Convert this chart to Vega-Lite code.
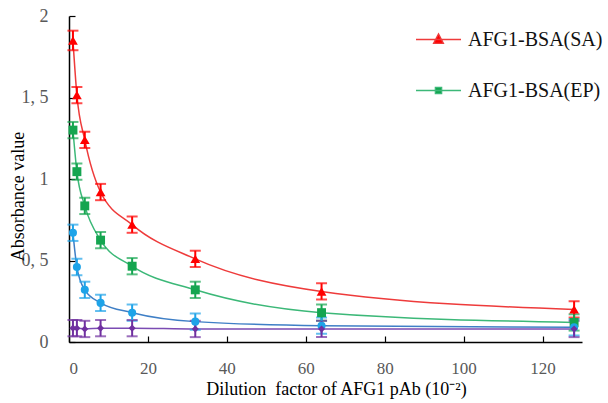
{
  "$schema": "https://vega.github.io/schema/vega-lite/v6.json",
  "width": 513,
  "height": 326,
  "autosize": {"type": "none"},
  "padding": {"left": 69, "top": 16, "right": 26, "bottom": 61},
  "background": "white",
  "config": {
    "view": {"stroke": null},
    "font": "Liberation Serif",
    "legend": {"labelFont": "Liberation Serif"}
  },
  "data": {
    "values": [
      {"series": "AFG1-BSA(SA)", "x": 1, "y": 1.85, "lo": 1.79, "hi": 1.91},
      {"series": "AFG1-BSA(SA)", "x": 2, "y": 1.515, "lo": 1.465, "hi": 1.565},
      {"series": "AFG1-BSA(SA)", "x": 4, "y": 1.24, "lo": 1.19, "hi": 1.29},
      {"series": "AFG1-BSA(SA)", "x": 8, "y": 0.92, "lo": 0.87, "hi": 0.97},
      {"series": "AFG1-BSA(SA)", "x": 16, "y": 0.72, "lo": 0.67, "hi": 0.77},
      {"series": "AFG1-BSA(SA)", "x": 32, "y": 0.51, "lo": 0.46, "hi": 0.56},
      {"series": "AFG1-BSA(SA)", "x": 64, "y": 0.31, "lo": 0.26, "hi": 0.36},
      {"series": "AFG1-BSA(SA)", "x": 128, "y": 0.2, "lo": 0.15, "hi": 0.25},
      {"series": "AFG1-BSA(EP)", "x": 1, "y": 1.3, "lo": 1.25, "hi": 1.35},
      {"series": "AFG1-BSA(EP)", "x": 2, "y": 1.045, "lo": 0.995, "hi": 1.095},
      {"series": "AFG1-BSA(EP)", "x": 4, "y": 0.835, "lo": 0.785, "hi": 0.885},
      {"series": "AFG1-BSA(EP)", "x": 8, "y": 0.625, "lo": 0.575, "hi": 0.675},
      {"series": "AFG1-BSA(EP)", "x": 16, "y": 0.465, "lo": 0.415, "hi": 0.515},
      {"series": "AFG1-BSA(EP)", "x": 32, "y": 0.32, "lo": 0.27, "hi": 0.37},
      {"series": "AFG1-BSA(EP)", "x": 64, "y": 0.18, "lo": 0.13, "hi": 0.23},
      {"series": "AFG1-BSA(EP)", "x": 128, "y": 0.12, "lo": 0.07, "hi": 0.17},
      {"series": "Blue", "x": 1, "y": 0.67, "lo": 0.62, "hi": 0.72},
      {"series": "Blue", "x": 2, "y": 0.46, "lo": 0.41, "hi": 0.51},
      {"series": "Blue", "x": 4, "y": 0.32, "lo": 0.27, "hi": 0.37},
      {"series": "Blue", "x": 8, "y": 0.24, "lo": 0.19, "hi": 0.29},
      {"series": "Blue", "x": 16, "y": 0.18, "lo": 0.13, "hi": 0.23},
      {"series": "Blue", "x": 32, "y": 0.125, "lo": 0.075, "hi": 0.175},
      {"series": "Blue", "x": 64, "y": 0.1, "lo": 0.05, "hi": 0.15},
      {"series": "Blue", "x": 128, "y": 0.09, "lo": 0.04, "hi": 0.14},
      {"series": "Purple", "x": 1, "y": 0.085, "lo": 0.035, "hi": 0.135},
      {"series": "Purple", "x": 2, "y": 0.085, "lo": 0.035, "hi": 0.135},
      {"series": "Purple", "x": 4, "y": 0.08, "lo": 0.03, "hi": 0.13},
      {"series": "Purple", "x": 8, "y": 0.085, "lo": 0.035, "hi": 0.135},
      {"series": "Purple", "x": 16, "y": 0.085, "lo": 0.035, "hi": 0.135},
      {"series": "Purple", "x": 32, "y": 0.08, "lo": 0.03, "hi": 0.13},
      {"series": "Purple", "x": 64, "y": 0.08, "lo": 0.03, "hi": 0.13},
      {"series": "Purple", "x": 128, "y": 0.08, "lo": 0.03, "hi": 0.13}
    ]
  },
  "encoding": {
    "x": {
      "field": "x",
      "type": "quantitative",
      "scale": {"domain": [0, 130], "nice": false, "zero": false},
      "axis": {
        "title": "Dilution\u00a0 factor of AFG1 pAb (10⁻²)",
        "values": [0, 20, 40, 60, 80, 100, 120],
        "grid": false,
        "domainColor": "#000000",
        "domainWidth": 1.5,
        "tickColor": "#000000",
        "tickWidth": 1.2,
        "tickSize": -6,
        "labelPadding": 24,
        "labelFont": "Liberation Serif",
        "labelFontSize": 17,
        "labelColor": "#595959",
        "titleFont": "Liberation Serif",
        "titleFontSize": 18,
        "titleFontWeight": "normal",
        "titleColor": "#000000",
        "titleX": 267,
        "titleY": 38,
        "titleBaseline": "top"
      }
    },
    "y": {
      "field": "y",
      "type": "quantitative",
      "scale": {"domain": [0, 2], "nice": false},
      "axis": {
        "title": "Absorbance value",
        "values": [0, 0.5, 1, 1.5, 2],
        "labelExpr": "replace(format(datum.value, '.1~f'), '.', ', ')",
        "grid": false,
        "domainColor": "#000000",
        "domainWidth": 1.5,
        "tickColor": "#000000",
        "tickWidth": 1.2,
        "tickSize": -6,
        "labelPadding": 27,
        "labelFont": "Liberation Serif",
        "labelFontSize": 18,
        "labelColor": "#595959",
        "titleFont": "Liberation Serif",
        "titleFontSize": 18,
        "titleFontWeight": "normal",
        "titleColor": "#000000",
        "titleX": -51,
        "titleY": 180,
        "titleAngle": -90,
        "titleAlign": "center",
        "titleBaseline": "middle"
      }
    }
  },
  "resolve": {"scale": {"color": "independent", "stroke": "independent", "shape": "independent", "size": "independent"}},
  "layer": [
    {
      "mark": {"type": "line", "interpolate": "monotone", "strokeWidth": 1.5},
      "encoding": {
        "stroke": {
          "field": "series",
          "type": "nominal",
          "scale": {
            "domain": ["Purple", "Blue", "AFG1-BSA(EP)", "AFG1-BSA(SA)"],
            "range": ["#7b4bb3", "#3f7fc6", "#3cb878", "#ee3b3b"]
          },
          "legend": null
        },
        "detail": {"field": "series"}
      }
    },
    {
      "mark": {"type": "errorbar", "ticks": {"size": 11, "thickness": 2}, "thickness": 2},
      "encoding": {
        "y": {"field": "lo", "type": "quantitative"},
        "y2": {"field": "hi"},
        "color": {
          "field": "series",
          "type": "nominal",
          "scale": {
            "domain": ["AFG1-BSA(SA)", "AFG1-BSA(EP)", "Blue", "Purple"],
            "range": ["#ff0000", "#15a550", "#1ea3e8", "#7030a0"]
          },
          "legend": null
        }
      }
    },
    {
      "mark": {"type": "point", "filled": true, "opacity": 1},
      "encoding": {
        "color": {
          "field": "series",
          "type": "nominal",
          "scale": {
            "domain": ["AFG1-BSA(SA)", "AFG1-BSA(EP)", "Blue", "Purple"],
            "range": ["#ff0000", "#15a550", "#1ea3e8", "#7030a0"]
          },
          "legend": null
        },
        "shape": {
          "field": "series",
          "type": "nominal",
          "scale": {
            "domain": ["AFG1-BSA(SA)", "AFG1-BSA(EP)", "Blue", "Purple"],
            "range": ["triangle-up", "square", "circle", "diamond"]
          },
          "legend": null
        },
        "size": {
          "field": "series",
          "type": "nominal",
          "scale": {
            "domain": ["AFG1-BSA(SA)", "AFG1-BSA(EP)", "Blue", "Purple"],
            "range": [95, 50, 90, 60]
          },
          "legend": null
        }
      }
    },
    {
      "transform": [{"filter": "datum.x < 0"}],
      "mark": {"type": "point", "filled": true, "opacity": 1, "strokeWidth": 1.3},
      "encoding": {
        "color": {
          "field": "series",
          "type": "nominal",
          "scale": {
            "domain": ["AFG1-BSA(SA)", "AFG1-BSA(EP)"],
            "range": ["#ff0000", "#15a550"]
          },
          "legend": {
            "orient": "none",
            "legendX": 346,
            "legendY": 0,
            "title": null,
            "symbolSize": 2025,
            "symbolOpacity": 1,
            "symbolStrokeWidth": 1.3,
            "rowPadding": 17,
            "labelOffset": 6,
            "labelFont": "Liberation Serif",
            "labelFontSize": 20,
            "labelColor": "#111111",
            "labelLimit": 300
          }
        },
        "stroke": {
          "field": "series",
          "type": "nominal",
          "scale": {
            "domain": ["AFG1-BSA(SA)", "AFG1-BSA(EP)"],
            "range": ["#ee3b3b", "#3cb878"]
          },
          "legend": {
            "orient": "none",
            "legendX": 346,
            "legendY": 0,
            "title": null,
            "symbolSize": 2025,
            "symbolOpacity": 1,
            "symbolStrokeWidth": 1.3,
            "rowPadding": 17,
            "labelOffset": 6,
            "labelFont": "Liberation Serif",
            "labelFontSize": 20,
            "labelColor": "#111111",
            "labelLimit": 300
          }
        },
        "shape": {
          "field": "series",
          "type": "nominal",
          "scale": {
            "domain": ["AFG1-BSA(SA)", "AFG1-BSA(EP)"],
            "range": ["M-1,0H1M0,-0.25L0.22,0.17H-0.22Z", "M-1,0H1M-0.14,-0.14H0.14V0.14H-0.14Z"]
          },
          "legend": {
            "orient": "none",
            "legendX": 346,
            "legendY": 0,
            "title": null,
            "symbolSize": 2025,
            "symbolOpacity": 1,
            "symbolStrokeWidth": 1.3,
            "rowPadding": 17,
            "labelOffset": 6,
            "labelFont": "Liberation Serif",
            "labelFontSize": 20,
            "labelColor": "#111111",
            "labelLimit": 300
          }
        }
      }
    }
  ]
}
